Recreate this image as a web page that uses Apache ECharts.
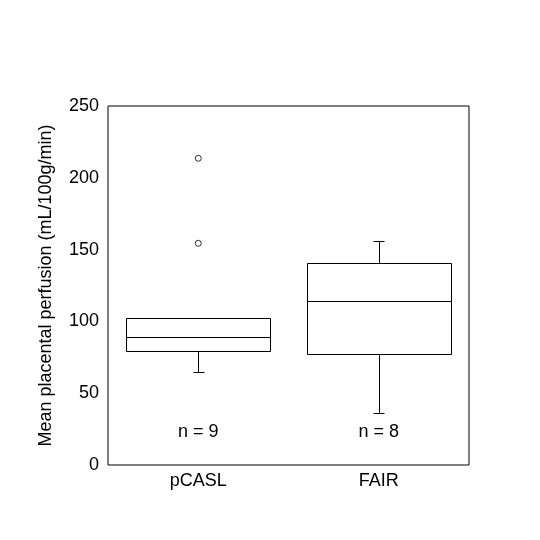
<!DOCTYPE html>
<html>
<head>
<meta charset="utf-8">
<script src="https://cdn.jsdelivr.net/npm/echarts@6/dist/echarts.min.js"></script>
<style>html,body{margin:0;padding:0;background:#fff;}#c{width:540px;height:540px;}</style>
</head>
<body>
<div id="c"></div>
<script>
var categories = ['pCASL', 'FAIR'];
var lowerWhisker = [64.6, 36];
var q1 = [79.2, 77.1];
var median = [88.9, 114];
var q3 = [102.2, 140.5];
var upperWhisker = [102.2, 155.8];
var outliers = [[0, 213.6], [0, 154.4]];
var countLabels = ['n = 9', 'n = 8'];
var yTicks = [0, 50, 100, 150, 200, 250];

var boxData = categories.map(function (c, i) {
  return [i, lowerWhisker[i], q1[i], median[i], q3[i], upperWhisker[i]];
});

function px(v) { return Math.round(v) + 0.5; }

var chart = echarts.init(document.getElementById('c'), null, {renderer: 'canvas'});
chart.setOption({
  animation: false,
  backgroundColor: '#fff',
  textStyle: {fontFamily: 'Liberation Sans, Arial, sans-serif'},
  grid: {left: 108, top: 106, right: 71, bottom: 75, show: true, borderColor: '#000', borderWidth: 1, backgroundColor: 'transparent'},
  xAxis: {
    type: 'category', data: categories, boundaryGap: true,
    axisLine: {show: false}, axisTick: {show: false}, splitLine: {show: false},
    axisLabel: {color: '#000', fontSize: 18, margin: 7, fontFamily: 'Liberation Sans'}
  },
  yAxis: {
    type: 'value', min: yTicks[0], max: yTicks[yTicks.length - 1], interval: 50,
    axisLine: {show: false}, axisTick: {show: false}, splitLine: {show: false},
    axisLabel: {color: '#000', fontSize: 18, margin: 9, fontFamily: 'Liberation Sans'},
    name: 'Mean placental perfusion (mL/100g/min)', nameLocation: 'middle', nameRotate: 90, nameGap: 53,
    nameTextStyle: {color: '#000', fontSize: 18, fontFamily: 'Liberation Sans'}
  },
  series: [
    {
      type: 'custom',
      data: boxData,
      encode: {x: 0, y: [1, 2, 3, 4, 5]},
      renderItem: function (params, api) {
        var i = api.value(0);
        var bw = api.size([1, 0])[0] * 0.8;
        var cap = 11;
        var cx = api.coord([i, 0])[0];
        var yLo = api.coord([i, api.value(1)])[1];
        var yQ1 = api.coord([i, api.value(2)])[1];
        var yMed = api.coord([i, api.value(3)])[1];
        var yQ3 = api.coord([i, api.value(4)])[1];
        var yHi = api.coord([i, api.value(5)])[1];
        var st = {stroke: '#000', lineWidth: 1, fill: null};
        var x0 = px(cx - bw / 2), x1 = px(cx + bw / 2), xc = px(cx);
        var ch = [
          {type: 'rect', shape: {x: x0, y: px(yQ3), width: x1 - x0, height: px(yQ1) - px(yQ3)}, style: {stroke: '#000', lineWidth: 1, fill: 'transparent'}},
          {type: 'line', shape: {x1: x0, y1: px(yMed), x2: x1, y2: px(yMed)}, style: st}
        ];
        if (api.value(1) < api.value(2)) {
          ch.push({type: 'line', shape: {x1: xc, y1: px(yQ1), x2: xc, y2: px(yLo)}, style: st});
          ch.push({type: 'line', shape: {x1: px(cx - cap / 2), y1: px(yLo), x2: px(cx + cap / 2), y2: px(yLo)}, style: st});
        }
        if (api.value(5) > api.value(4)) {
          ch.push({type: 'line', shape: {x1: xc, y1: px(yQ3), x2: xc, y2: px(yHi)}, style: st});
          ch.push({type: 'line', shape: {x1: px(cx - cap / 2), y1: px(yHi), x2: px(cx + cap / 2), y2: px(yHi)}, style: st});
        }
        var gridBottom = params.coordSys.y + params.coordSys.height;
        ch.push({type: 'text', style: {text: countLabels[i], x: cx, y: gridBottom - 33, align: 'center', verticalAlign: 'middle', fill: '#000', font: '18px "Liberation Sans", Arial, sans-serif'}});
        return {type: 'group', children: ch};
      },
      z: 3
    },
    {
      type: 'scatter',
      data: outliers,
      symbol: 'circle',
      symbolSize: 6,
      itemStyle: {color: '#fff', borderColor: '#000', borderWidth: 1},
      z: 4
    }
  ]
});
</script>
</body>
</html>
